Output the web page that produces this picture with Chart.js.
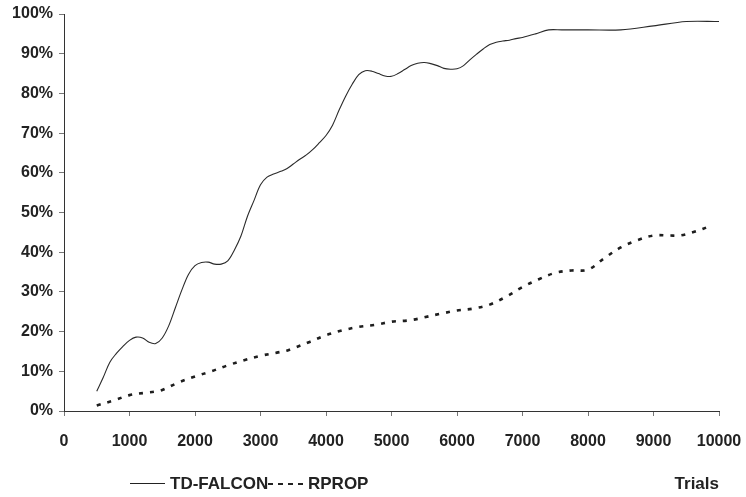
<!DOCTYPE html>
<html>
<head>
<meta charset="utf-8">
<script src="https://cdn.jsdelivr.net/npm/chart.js@4/dist/chart.umd.min.js"></script>
<style>
  html, body { margin: 0; padding: 0; background: #fff; overflow: hidden; }
  #wrap { position: relative; width: 746px; height: 497px; }
  #c { position: absolute; left: 0; top: 0; }
  .lg { position: absolute; font: bold 17px "Liberation Sans", Arial, sans-serif; color: #222; line-height: 20px; white-space: nowrap; }
  .sw { position: absolute; }
</style>
</head>
<body>
<div id="wrap">
  <canvas id="c" width="746" height="497"></canvas>
  <svg class="sw" style="left:130px;top:474px" width="36" height="20"><line x1="0" y1="9.5" x2="35" y2="9.5" stroke="#222" stroke-width="1"/></svg>
  <div class="lg" style="left:170px;top:474px">TD-FALCON</div>
  <svg class="sw" style="left:268px;top:474px" width="38" height="20"><line x1="0" y1="10" x2="37" y2="10" stroke="#222" stroke-width="2" stroke-dasharray="5 5"/></svg>
  <div class="lg" style="left:308px;top:474px">RPROP</div>
</div>
<script>
// ---- data ----
const seriesNames = ["TD-FALCON", "RPROP"];
const falconTrials = [500,600,700,800,900,1000,1100,1200,1300,1400,1500,1600,1700,1800,1900,2000,2100,2200,2300,2400,2500,2600,2700,2800,2900,3000,3100,3200,3300,3400,3500,3600,3700,3800,3900,4000,4100,4200,4300,4400,4500,4600,4700,4800,4900,5000,5100,5200,5300,5400,5500,5600,5700,5800,5900,6000,6100,6200,6300,6400,6500,6600,6700,6800,6900,7000,7200,7400,7600,8000,8500,9000,9500,10000];
const falconValues = [5,8.5,12.3,14.5,16.3,17.8,18.6,18.4,17.3,17.0,18.4,21.5,26,30.5,34.4,36.6,37.4,37.5,37.0,37.0,37.8,40.5,44,49,53,57,58.9,59.7,60.3,61,62.2,63.4,64.5,65.9,67.6,69.4,72,75.8,79.3,82.3,84.7,85.7,85.6,85.0,84.4,84.3,85.0,86.0,87.0,87.6,87.8,87.5,87.0,86.3,86.1,86.2,87.0,88.5,89.9,91.2,92.3,92.9,93.2,93.4,93.8,94.1,95.0,96,96,96,96,97,98.1,98.1];
const rpropTrials = [500,750,1000,1250,1400,1500,1750,2000,2250,2500,2750,3000,3250,3400,3500,3750,4000,4250,4500,4750,5000,5250,5400,5500,5750,6000,6250,6500,6750,7000,7250,7500,7750,8000,8250,8500,8750,9000,9250,9400,9600,9900];
const rpropValues = [1.4,2.6,4.0,4.6,4.9,5.3,7.2,8.7,10.0,11.5,12.8,13.9,14.7,15.2,15.8,17.4,19.1,20.3,21.2,21.7,22.5,22.8,23.2,23.6,24.5,25.3,25.8,26.8,28.8,31.2,33.2,34.8,35.4,35.6,38.5,41.2,43.0,44.2,44.2,44.2,45.0,46.8];
const xTicks = [0,1000,2000,3000,4000,5000,6000,7000,8000,9000,10000];
const yTicks = [0,10,20,30,40,50,60,70,80,90,100];
const xTitle = "Trials";

const pts = (xs, ys) => xs.map((x, i) => ({ x: x, y: ys[i] }));
const tickFont = { family: '"Liberation Sans", Arial, sans-serif', size: 16, weight: 'bold' };

new Chart(document.getElementById('c'), {
  type: 'line',
  data: {
    datasets: [
      { label: seriesNames[0], data: pts(falconTrials, falconValues), borderColor: '#2a2a2a', borderWidth: 1.1, pointRadius: 0, tension: 0.35, fill: false },
      { label: seriesNames[1], data: pts(rpropTrials, rpropValues), borderColor: '#1e1e1e', borderWidth: 2.6, borderDash: [4, 7], pointRadius: 0, tension: 0.35, fill: false }
    ]
  },
  options: {
    responsive: false,
    devicePixelRatio: 1,
    animation: false,
    layout: { padding: { top: 14, right: 27, bottom: 0, left: 0 } },
    plugins: { legend: { display: false }, tooltip: { enabled: false } },
    scales: {
      x: {
        type: 'linear',
        min: xTicks[0], max: xTicks[xTicks.length - 1],
        afterBuildTicks: s => { s.ticks = xTicks.map(v => ({ value: v })); },
        afterFit: s => { s.height = 86; s.paddingRight = 0; s.paddingLeft = 0; },
        ticks: { font: tickFont, color: '#222', padding: 16, maxRotation: 0, autoSkip: false, callback: v => String(v) },
        grid: { drawOnChartArea: false, drawTicks: true, tickLength: 5, color: '#777' },
        border: { display: true, color: '#333', width: 1 },
        title: { display: true, text: xTitle, align: 'end', color: '#222', font: { family: '"Liberation Sans", Arial, sans-serif', size: 17, weight: 'bold' }, padding: { top: 0, bottom: 2 } }
      },
      y: {
        min: yTicks[0], max: yTicks[yTicks.length - 1],
        afterBuildTicks: s => { s.ticks = yTicks.map(v => ({ value: v })); },
        afterFit: s => { s.width = 64; s.paddingTop = 0; s.paddingBottom = 0; },
        ticks: { font: tickFont, color: '#222', padding: 6, callback: v => v + '%' },
        grid: { drawOnChartArea: false, drawTicks: true, tickLength: 5, color: '#777' },
        border: { display: true, color: '#333', width: 1 }
      }
    }
  }
});
</script>
</body>
</html>
